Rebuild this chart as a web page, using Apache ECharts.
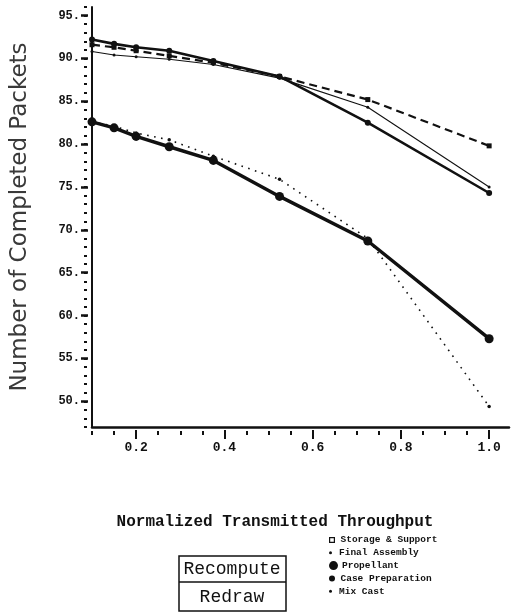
<!DOCTYPE html>
<html>
<head>
<meta charset="utf-8">
<script src="https://cdn.jsdelivr.net/npm/echarts@6/dist/echarts.min.js"></script>
<style>
  html, body { margin: 0; padding: 0; background: #fff; }
  #chart { width: 512px; height: 615px; }
</style>
</head>
<body>
<div id="chart"></div>
<script>
// throughput values where the points were measured
var xValues = [0.1, 0.15, 0.2, 0.275, 0.375, 0.525, 0.725, 1.0];

var storageSupport = [91.6, 91.3, 90.9, 90.3, 89.5, 87.9, 85.2, 79.8];
var finalAssembly = [90.8, 90.4, 90.2, 89.9, 89.3, 87.7, 84.3, 75.0];
var propellant = [82.6, 81.9, 80.9, 79.7, 78.1, 73.9, 68.7, 57.3];
var casePreparation = [92.2, 91.7, 91.3, 90.9, 89.7, 87.9, 82.5, 74.3];
var mixCast = [82.6, 82.1, 81.3, 80.5, 78.6, 75.9, 69.0, 49.4];

var seriesNames = ['Storage & Support', 'Final Assembly', 'Propellant', 'Case Preparation', 'Mix Cast'];

var xLabelTicks = [0.2, 0.4, 0.6, 0.8, 1.0];
var xMinorTicks = [0.1, 0.15, 0.2, 0.25, 0.3, 0.35, 0.4, 0.45, 0.5, 0.55, 0.6, 0.65, 0.7, 0.75, 0.8, 0.85, 0.9, 0.95, 1.0];
var yLabelTicks = [50, 55, 60, 65, 70, 75, 80, 85, 90, 95];
var yMinorTicks = [];
for (var v = 47; v <= 96; v++) yMinorTicks.push(v);

function pairs(ys) {
  return xValues.map(function (x, i) { return [x, ys[i]]; });
}

var ink = '#111';

var chartDom = document.getElementById('chart');
var myChart = echarts.init(chartDom);
var option;

// one small legend per entry so each marker keeps its own size
var legendIcons = ['path://M0 0H10V10H0ZM2 2V8H8V2Z', 'circle', 'circle', 'circle', 'circle'];
var legendSizes = [6, 3, 9, 6, 3];
var legendLine = 11;
var legends = seriesNames.map(function (name, i) {
  var h = Math.max(legendSizes[i], legendLine);
  return {
    data: [name],
    left: 329,
    top: 540 + i * 12.8 - h / 2,
    icon: legendIcons[i],
    itemWidth: 9,
    itemHeight: legendSizes[i],
    itemGap: 0,
    selectedMode: false,
    padding: 0,
    textStyle: {
      fontFamily: 'Liberation Mono', fontWeight: 'bold', fontSize: 9.5,
      lineHeight: legendLine, color: ink, padding: [0, 0, 0, -1]
    }
  };
});

option = {
  backgroundColor: '#fff',
  animation: false,
  legend: legends,
  grid: { left: 92, right: 3, top: 7, bottom: 188 },
  xAxis: [
    {
      type: 'value', min: 0.1, max: 1.045, position: 'bottom',
      axisLine: { show: true, lineStyle: { color: ink, width: 2.5 } },
      axisTick: { show: false },
      splitLine: { show: false },
      axisLabel: {
        customValues: xLabelTicks, margin: 14, fontSize: 13,
        fontFamily: 'Liberation Mono', fontWeight: 'bold', color: ink,
        formatter: function (val) { return val.toFixed(1); }
      }
    },
    {
      type: 'value', min: 0.1, max: 1.045, position: 'bottom', offset: 3,
      axisLine: { show: false },
      axisTick: { show: true, customValues: xLabelTicks, length: 9, lineStyle: { color: ink, width: 2 } },
      axisLabel: { show: false },
      splitLine: { show: false }
    },
    {
      type: 'value', min: 0.1, max: 1.045, position: 'bottom', offset: 4,
      axisLine: { show: false },
      axisTick: { show: true, customValues: xMinorTicks, length: 4, lineStyle: { color: ink, width: 2 } },
      axisLabel: { show: false },
      splitLine: { show: false }
    }
  ],
  yAxis: [
    {
      type: 'value', min: 47, max: 96, position: 'left',
      name: 'Number of Completed Packets',
      nameLocation: 'middle', nameGap: 60, nameRotate: 90,
      nameTextStyle: { fontFamily: 'DejaVu Sans', fontSize: 23, color: '#3a3a3a' },
      axisLine: { show: true, lineStyle: { color: ink, width: 2 } },
      axisTick: { show: false },
      splitLine: { show: false },
      axisLabel: {
        customValues: yLabelTicks, margin: 12, fontSize: 12,
        fontFamily: 'Liberation Mono', fontWeight: 'bold', color: ink,
        formatter: function (val) { return val + '.'; }
      }
    },
    {
      type: 'value', min: 47, max: 96, position: 'left', offset: 4,
      axisLine: { show: false },
      axisTick: { show: true, customValues: yLabelTicks, length: 7, lineStyle: { color: ink, width: 2.5 } },
      axisLabel: { show: false },
      splitLine: { show: false }
    },
    {
      type: 'value', min: 47, max: 96, position: 'left', offset: 5,
      axisLine: { show: false },
      axisTick: { show: true, customValues: yMinorTicks, length: 3, lineStyle: { color: ink, width: 2 } },
      axisLabel: { show: false },
      splitLine: { show: false }
    }
  ],
  series: [
    {
      name: seriesNames[0], type: 'line', data: pairs(storageSupport),
      symbol: 'rect', symbolSize: 5,
      itemStyle: { color: ink },
      lineStyle: { color: ink, width: 2.2, type: [8, 5] }
    },
    {
      name: seriesNames[1], type: 'line', data: pairs(finalAssembly),
      symbol: 'circle', symbolSize: 3,
      itemStyle: { color: ink },
      lineStyle: { color: ink, width: 1.1 }
    },
    {
      name: seriesNames[2], type: 'line', data: pairs(propellant),
      symbol: 'circle', symbolSize: 9,
      itemStyle: { color: ink },
      lineStyle: { color: ink, width: 3.5 }
    },
    {
      name: seriesNames[3], type: 'line', data: pairs(casePreparation),
      symbol: 'circle', symbolSize: 6,
      itemStyle: { color: ink },
      lineStyle: { color: ink, width: 2.6 }
    },
    {
      name: seriesNames[4], type: 'line', data: pairs(mixCast),
      symbol: 'circle', symbolSize: 3.5,
      itemStyle: { color: ink },
      lineStyle: { color: ink, width: 1.6, type: [1.6, 5.5] }
    }
  ],
  graphic: [
    {
      type: 'text', x: 275, y: 522,
      style: {
        text: 'Normalized Transmitted Throughput',
        font: 'bold 16px "Liberation Mono"', fill: ink,
        align: 'center', verticalAlign: 'middle'
      }
    },
    {
      type: 'rect', shape: { x: 179, y: 556, width: 107, height: 55 },
      style: { fill: '#fff', stroke: ink, lineWidth: 1.5 }
    },
    {
      type: 'line', shape: { x1: 179, y1: 582, x2: 286, y2: 582 },
      style: { stroke: ink, lineWidth: 1.5 }
    },
    {
      type: 'text', x: 232, y: 569,
      style: { text: 'Recompute', font: '18px "Liberation Mono"', fill: ink, align: 'center', verticalAlign: 'middle' }
    },
    {
      type: 'text', x: 232, y: 597,
      style: { text: 'Redraw', font: '18px "Liberation Mono"', fill: ink, align: 'center', verticalAlign: 'middle' }
    }
  ]
};

option && myChart.setOption(option);
</script>
</body>
</html>
